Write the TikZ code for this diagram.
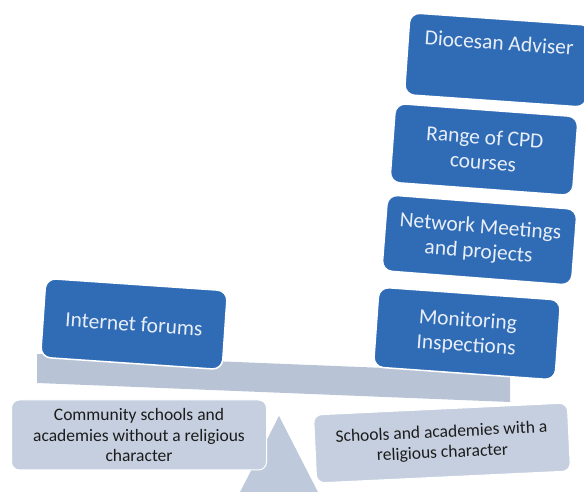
\documentclass[tikz,border=0pt]{standalone}
\usepackage{fontspec}
\setmainfont{Carlito}
\definecolor{boxblue}{RGB}{48,108,182}
\definecolor{bluetext}{RGB}{232,238,247}
\definecolor{lightbox}{RGB}{197,207,223}
\definecolor{beamcol}{RGB}{184,196,214}
\definecolor{fulcrumcol}{RGB}{190,201,219}
\definecolor{darktext}{RGB}{28,28,28}
\tikzset{
  bluebox/.style={draw=white, line width=1.5pt, fill=boxblue, rounded corners=10pt,
    text=bluetext, font=\fontsize{21.5}{25}\selectfont, align=center, inner sep=2pt},
  greybox/.style={draw=white, line width=1pt, fill=lightbox, rounded corners=8pt,
    text=darktext, font=\fontsize{17.5}{20.5}\selectfont, align=center, inner sep=2pt},
}
\begin{document}
\begin{tikzpicture}[x=1pt,y=1pt]
\useasboundingbox (0,0) rectangle (584,492);
\clip (0,0) rectangle (584,492);
% fulcrum
\fill[fulcrumcol] (279,76) coordinate (apex) -- (236,-8) -- (322,-8) -- cycle;
% beam
\fill[beamcol] (37,138) -- (510,119) -- (510,90) -- (37,109) -- cycle;
% bottom boxes
\node[greybox, minimum width=255pt, minimum height=70pt] (community) at (139,57)
  {Community schools and\\academies without a religious\\character};
\node[greybox, rotate=2.7, minimum width=254pt, minimum height=68pt] (religious) at (442,49)
  {Schools and academies with a\\religious character};
% weights
\node[bluebox, rotate=-3.9, minimum width=182pt, minimum height=79pt] (forums) at (134,168)
  {Internet forums};
\node[bluebox, rotate=-4.1, minimum width=182pt, minimum height=80pt] (monitor) at (467,158.5)
  {Monitoring\\Inspections};
\node[bluebox, rotate=-4.4, minimum width=190pt, minimum height=76pt] (network) at (479.5,252)
  {Network Meetings\\and projects};
\node[bluebox, rotate=-4.2, minimum width=183pt, minimum height=79pt] (cpd) at (484,342.5)
  {Range of CPD\\courses};
\node[bluebox, rotate=-4.0, minimum width=182pt, minimum height=82pt, text height=15pt, text depth=35pt] (adviser) at (498,432)
  {Diocesan Adviser};
\end{tikzpicture}
\end{document}
